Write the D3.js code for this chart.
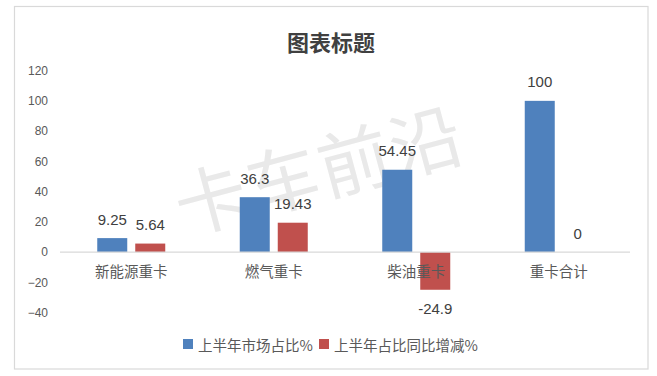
<!DOCTYPE html>
<html>
<head>
<meta charset="utf-8">
<script src="https://cdn.jsdelivr.net/npm/d3@7"></script>
<style>
  body { margin: 0; background: #fff; }
  svg { display: block; }
</style>
</head>
<body>
<div id="chart"></div>
<script>
// chart data
const categories = ["新能源重卡", "燃气重卡", "柴油重卡", "重卡合计"];
const shareValues = [9.25, 36.3, 54.45, 100];
const changeValues = [5.64, 19.43, -24.9, 0];
const seriesNames = ["上半年市场占比%", "上半年占比同比增减%"];
const yTicks = [-40, -20, 0, 20, 40, 60, 80, 100, 120];

const width = 657, height = 376;
const colors = ["#4f81bd", "#c0504d"];
const cjk = "'Noto Sans CJK SC', 'Liberation Sans', sans-serif";
const num = "'Liberation Sans', Arial, sans-serif";

const svg = d3.select("#chart").append("svg")
  .attr("width", width)
  .attr("height", height);

// outer frame
svg.append("rect")
  .attr("x", 14.5).attr("y", 6.5)
  .attr("width", 633.5).attr("height", 362.5)
  .attr("fill", "#fff")
  .attr("stroke", "#d9d9d9")
  .attr("stroke-width", 1.2);

// watermark
svg.append("text")
  .attr("transform", "translate(318,166) rotate(-15)")
  .attr("text-anchor", "middle")
  .attr("dominant-baseline", "central")
  .style("font-family", cjk)
  .style("font-size", "72px")
  .style("letter-spacing", "2px")
  .attr("fill", "#e9e9e9")
  .text("卡车前沿");

// title
svg.append("text")
  .attr("x", 331).attr("y", 41)
  .attr("text-anchor", "middle")
  .attr("dominant-baseline", "central")
  .style("font-family", cjk)
  .style("font-size", "22px")
  .style("font-weight", "bold")
  .attr("fill", "#404040")
  .text("图表标题");

const x = d3.scaleBand()
  .domain(categories)
  .range([60, 630]);

const y = d3.scaleLinear()
  .domain([-40, 120])
  .range([312.6, 70.6]);

const barW = 30, innerGap = 8;

// y axis labels (no line)
const yAxis = svg.append("g")
  .attr("transform", "translate(48,0)")
  .call(d3.axisLeft(y).tickValues(yTicks).tickSize(0).tickPadding(0));
yAxis.select(".domain").remove();
yAxis.selectAll("text")
  .style("font-family", num)
  .style("font-size", "12px")
  .attr("fill", "#595959");

// bars
const series = [shareValues, changeValues];
series.forEach((vals, s) => {
  const offset = s === 0 ? -(barW + innerGap / 2) : innerGap / 2;
  svg.append("g")
    .selectAll("rect")
    .data(vals)
    .join("rect")
    .attr("x", (d, i) => x(categories[i]) + x.bandwidth() / 2 + offset)
    .attr("y", (d) => y(Math.max(0, d)))
    .attr("width", barW)
    .attr("height", (d) => Math.abs(y(d) - y(0)))
    .attr("fill", colors[s]);

  svg.append("g")
    .selectAll("text")
    .data(vals)
    .join("text")
    .attr("x", (d, i) => x(categories[i]) + x.bandwidth() / 2 + offset + barW / 2)
    .attr("y", (d) => d < 0 ? y(d) + 19 : y(d) - 19)
    .attr("text-anchor", "middle")
    .attr("dominant-baseline", "central")
    .style("font-family", num)
    .style("font-size", "15px")
    .attr("fill", "#404040")
    .text((d) => d);
});

// zero line
svg.append("line")
  .attr("x1", 60).attr("x2", 630)
  .attr("y1", y(0)).attr("y2", y(0))
  .attr("stroke", "#d9d9d9")
  .attr("stroke-width", 1.2);

// category labels
svg.append("g")
  .selectAll("text")
  .data(categories)
  .join("text")
  .attr("x", (d) => x(d) + x.bandwidth() / 2)
  .attr("y", 270)
  .attr("text-anchor", "middle")
  .attr("dominant-baseline", "central")
  .style("font-family", cjk)
  .style("font-size", "14.5px")
  .attr("fill", "#595959")
  .text((d) => d);

// legend
const legendX = [183, 319];
seriesNames.forEach((name, s) => {
  svg.append("rect")
    .attr("x", legendX[s]).attr("y", 339)
    .attr("width", 10).attr("height", 10)
    .attr("fill", colors[s]);
  svg.append("text")
    .attr("x", legendX[s] + 15).attr("y", 344)
    .attr("dominant-baseline", "central")
    .style("font-family", cjk)
    .style("font-size", "14.5px")
    .attr("fill", "#595959")
    .text(name);
});
</script>
</body>
</html>
